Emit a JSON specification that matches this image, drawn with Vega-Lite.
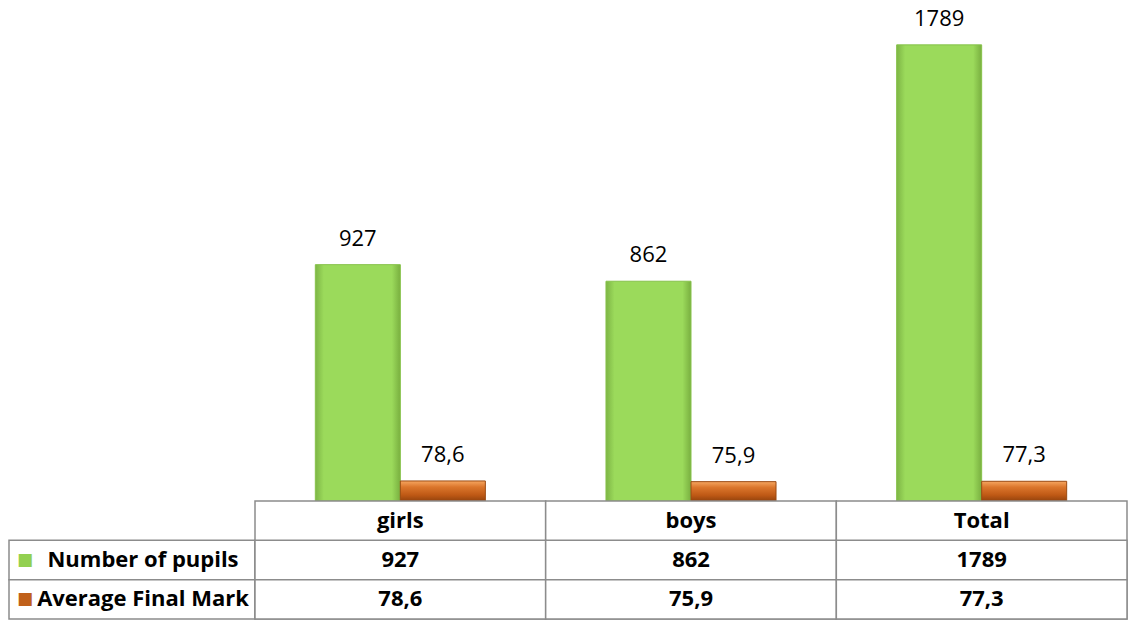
{
  "$schema": "https://vega.github.io/schema/vega-lite/v6.json",
  "padding": {"left": 8, "top": 0, "right": 0, "bottom": 0},
  "background": "white",
  "bounds": "flush",
  "spacing": 0,
  "columns": 2,
  "config": {
    "view": {"stroke": null},
    "font": "Open Sans",
    "text": {"font": "Open Sans"},
    "locale": {"number": {"decimal": ",", "thousands": ".", "grouping": [3], "currency": ["", ""]}}
  },
  "datasets": {
    "d": [
      {"cat": "girls", "series": "Number of pupils", "value": 927},
      {"cat": "girls", "series": "Average Final Mark", "value": 78.6},
      {"cat": "boys", "series": "Number of pupils", "value": 862},
      {"cat": "boys", "series": "Average Final Mark", "value": 75.9},
      {"cat": "Total", "series": "Number of pupils", "value": 1789},
      {"cat": "Total", "series": "Average Final Mark", "value": 77.3}
    ]
  },
  "concat": [
    {
      "width": 246,
      "height": 501,
      "data": {"values": [{"t": ""}]},
      "mark": {"type": "text"},
      "encoding": {"text": {"field": "t"}}
    },
    {
      "width": 872,
      "height": 501,
      "data": {"name": "d"},
      "encoding": {
        "x": {"field": "cat", "type": "nominal", "axis": null,
              "scale": {"domain": ["girls", "boys", "Total"], "paddingInner": 0.415, "paddingOuter": 0.2075}},
        "xOffset": {"field": "series", "type": "nominal",
              "scale": {"domain": ["Number of pupils", "Average Final Mark"], "paddingInner": 0, "paddingOuter": 0}},
        "y": {"field": "value", "type": "quantitative", "axis": null,
              "scale": {"domain": [0, 1965], "nice": false, "zero": true}}
      },
      "layer": [
        {
          "transform": [{"filter": "datum.series === 'Number of pupils'"}],
          "mark": {"type": "bar", "stroke": "#86C24A", "strokeWidth": 1,
            "color": {"gradient": "linear", "x1": 0, "y1": 0, "x2": 1, "y2": 0,
              "stops": [
                {"offset": 0, "color": "#7DB545"},
                {"offset": 0.1, "color": "#9BDA5B"},
                {"offset": 0.9, "color": "#9BDA5B"},
                {"offset": 1, "color": "#79AF40"}
              ]}}
        },
        {
          "transform": [{"filter": "datum.series === 'Average Final Mark'"}],
          "mark": {"type": "bar", "stroke": "#9A4A12", "strokeWidth": 1,
            "color": {"gradient": "linear", "x1": 0, "y1": 0, "x2": 0, "y2": 1,
              "stops": [
                {"offset": 0, "color": "#F6A660"},
                {"offset": 0.3, "color": "#DB762C"},
                {"offset": 0.7, "color": "#BF5915"},
                {"offset": 1, "color": "#94430D"}
              ]}}
        },
        {
          "mark": {"type": "text", "baseline": "alphabetic", "dy": -19, "fontSize": 22, "color": "#000000"},
          "encoding": {"text": {"field": "value", "type": "quantitative", "format": ".1~f"}}
        }
      ]
    },
    {
      "width": 246,
      "height": 118,
      "data": {"name": "d"},
      "transform": [{"filter": "datum.cat === 'girls'"}],
      "encoding": {
        "y": {"field": "series", "type": "nominal", "axis": null,
              "scale": {"domain": ["hdr", "Number of pupils", "Average Final Mark"], "paddingInner": 0, "paddingOuter": 0}}
      },
      "layer": [
        {"mark": {"type": "rect", "fill": "white", "stroke": "#8C8C8C", "strokeWidth": 1.5}},
        {"mark": {"type": "text", "fontSize": 22, "fontWeight": "bold", "baseline": "middle", "dx": 11, "color": "#000000"},
         "encoding": {"text": {"field": "series"}}},
        {"mark": {"type": "text", "text": "■", "font": "DejaVu Sans", "fontSize": 17, "baseline": "middle", "dx": -107},
         "encoding": {"color": {"field": "series", "type": "nominal", "legend": null,
           "scale": {"domain": ["Number of pupils", "Average Final Mark"], "range": ["#92D050", "#C0601A"]}}}}
      ]
    },
    {
      "width": 872,
      "height": 118,
      "data": {"name": "d"},
      "encoding": {
        "x": {"field": "cat", "type": "nominal", "axis": null,
              "scale": {"domain": ["girls", "boys", "Total"], "paddingInner": 0, "paddingOuter": 0}}
      },
      "layer": [
        {
          "transform": [{"filter": "datum.series === 'Number of pupils'"}],
          "mark": {"type": "rect", "fill": "white", "stroke": "#8C8C8C", "strokeWidth": 1.5}
        },
        {
          "mark": {"type": "rect", "fill": "white", "stroke": "#8C8C8C", "strokeWidth": 1.5},
          "encoding": {"y": {"field": "series", "type": "nominal", "axis": null,
              "scale": {"domain": ["hdr", "Number of pupils", "Average Final Mark"], "paddingInner": 0, "paddingOuter": 0}}}
        },
        {
          "transform": [{"filter": "datum.series === 'Number of pupils'"}],
          "mark": {"type": "text", "fontSize": 22, "fontWeight": "bold", "baseline": "middle", "color": "#000000"},
          "encoding": {
            "y": {"datum": "hdr", "type": "nominal", "axis": null,
              "scale": {"domain": ["hdr", "Number of pupils", "Average Final Mark"], "paddingInner": 0, "paddingOuter": 0}},
            "text": {"field": "cat"}
          }
        },
        {
          "mark": {"type": "text", "fontSize": 22, "fontWeight": "bold", "baseline": "middle", "color": "#000000"},
          "encoding": {
            "y": {"field": "series", "type": "nominal", "axis": null,
              "scale": {"domain": ["hdr", "Number of pupils", "Average Final Mark"], "paddingInner": 0, "paddingOuter": 0}},
            "text": {"field": "value", "type": "quantitative", "format": ".1~f"}
          }
        }
      ]
    }
  ]
}
